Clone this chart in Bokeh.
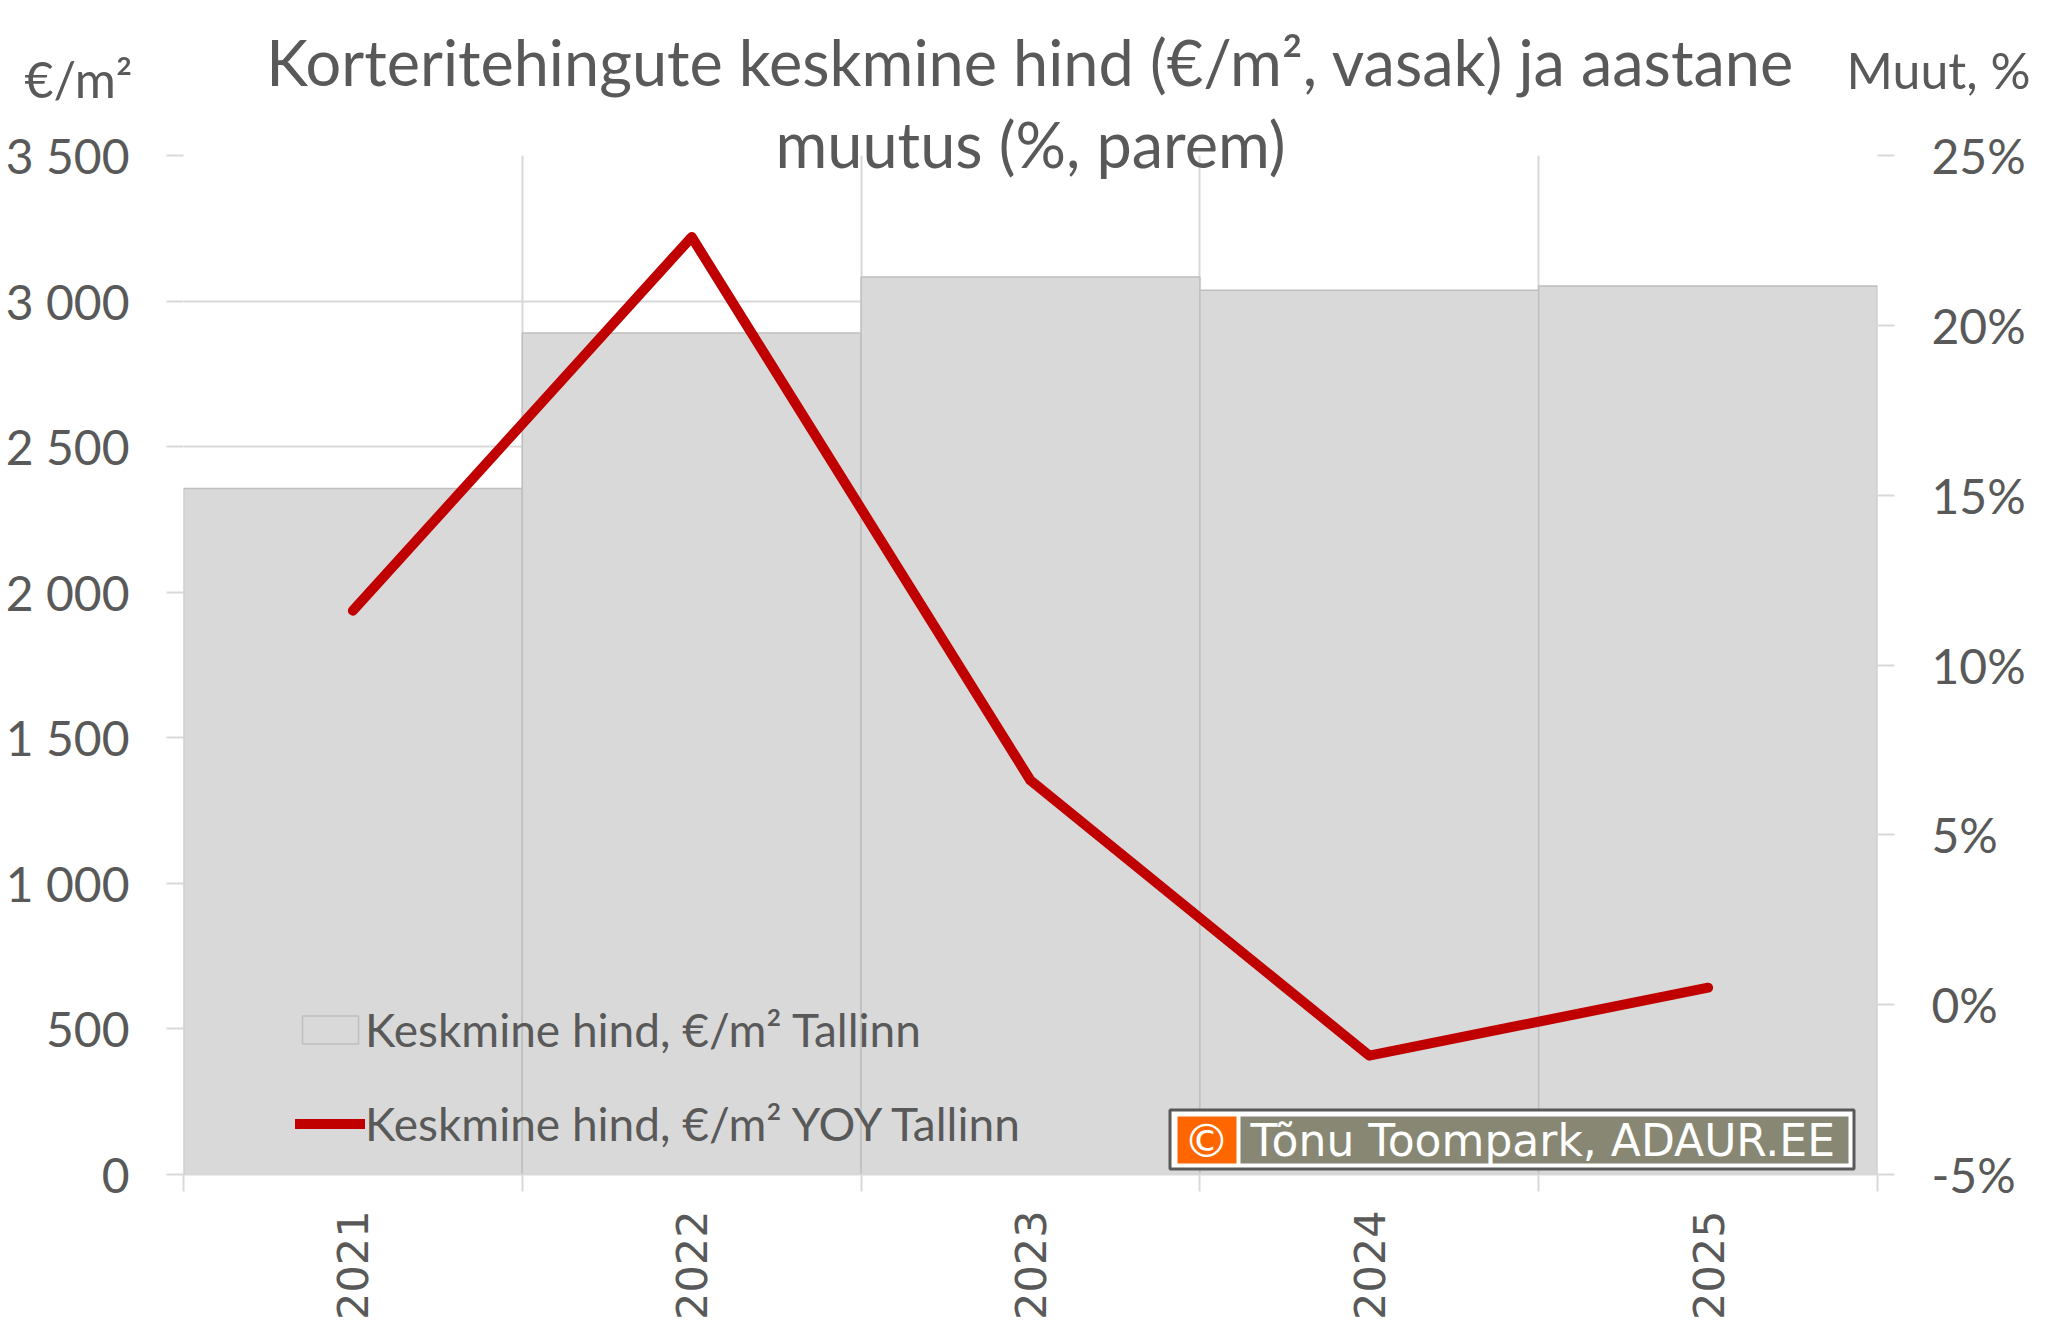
import math
from bokeh.plotting import figure
from bokeh.models import (Range1d, LinearAxis, FixedTicker, Label, Legend, LegendItem,
                          BoxAnnotation, ColumnDataSource, Title)
from bokeh.embed import file_html
from bokeh.resources import INLINE

# ---- data ----
years = ["2021", "2022", "2023", "2024", "2025"]
price = [2356, 2890, 3083, 3037, 3052]          # €/m², left axis
yoy = [11.6, 22.6, 6.6, -1.5, 0.5]               # %, right axis
left_ticks = [0, 500, 1000, 1500, 2000, 2500, 3000, 3500]
left_tick_labels = ["0", "500", "1 000", "1 500", "2 000", "2 500", "3 000", "3 500"]
right_ticks = [-5, 0, 5, 10, 15, 20, 25]
right_tick_labels = ["-5%", "0%", "5%", "10%", "15%", "20%", "25%"]
title_lines = ["Korteritehingute keskmine hind (€/m², vasak) ja aastane", "muutus (%, parem)"]
left_unit = "€/m²"
right_unit = "Muut, %"
legend_labels = ["Keskmine hind, €/m² Tallinn", "Keskmine hind, €/m² YOY Tallinn"]
watermark = "Tõnu Toompark, ADAUR.EE"

TXT = "#595959"
GRID = "#d9d9d9"
FONT = "Lato"

xc = [i + 0.5 for i in range(len(years))]
bounds = list(range(len(years) + 1))
src = ColumnDataSource(dict(x=xc, year=years, price=price, yoy=yoy))

p = figure(width=2032, height=1322, output_backend="svg", toolbar_location=None, tools="",
           x_range=Range1d(0, len(years)), y_range=Range1d(0, 3500),
           min_border_left=183, min_border_right=155, min_border_top=155, min_border_bottom=148)
p.title = None
p.extra_y_ranges = {"pct": Range1d(-5, 25)}
p.outline_line_color = None
p.background_fill_color = "white"
p.border_fill_color = "white"

# grids
p.xgrid.ticker = FixedTicker(ticks=bounds)
p.xgrid.grid_line_color = GRID
p.xgrid.grid_line_width = 2
p.ygrid.grid_line_color = GRID
p.ygrid.grid_line_width = 2

# bottom axis
xa = p.xaxis[0]
xa.ticker = FixedTicker(ticks=xc, minor_ticks=bounds)
xa.major_label_overrides = {x: y for x, y in zip(xc, years)}
xa.major_label_orientation = math.pi / 2
xa.major_tick_out = 0
xa.major_tick_in = 0
xa.minor_tick_out = 17
xa.minor_tick_in = 0
xa.minor_tick_line_color = GRID
xa.minor_tick_line_width = 2
xa.axis_line_color = GRID
xa.axis_line_width = 2
xa.major_label_standoff = 19
xa.major_label_text_font = "DejaVu Sans"
xa.major_label_text_font_size = "43px"
xa.major_label_text_color = TXT

# left axis
ya = p.yaxis[0]
ya.ticker = FixedTicker(ticks=left_ticks)
ya.major_label_overrides = {t: s for t, s in zip(left_ticks, left_tick_labels)}
ya.axis_line_color = None
ya.major_tick_out = 17
ya.major_tick_in = 0
ya.major_tick_line_color = GRID
ya.major_tick_line_width = 2
ya.minor_tick_line_color = None
ya.major_label_standoff = 37
ya.major_label_text_font = FONT
ya.major_label_text_font_size = "48px"
ya.major_label_text_color = TXT

# right axis
ra = LinearAxis(y_range_name="pct", ticker=FixedTicker(ticks=right_ticks))
ra.major_label_overrides = {t: s for t, s in zip(right_ticks, right_tick_labels)}
ra.axis_line_color = None
ra.major_tick_out = 17
ra.major_tick_in = 0
ra.major_tick_line_color = GRID
ra.major_tick_line_width = 2
ra.minor_tick_line_color = None
ra.major_label_standoff = 37
ra.major_label_text_font = FONT
ra.major_label_text_font_size = "48px"
ra.major_label_text_color = TXT
p.add_layout(ra, "right")

# glyphs
bars = p.vbar(x="x", top="price", width=1.0, source=src,
              fill_color="#d9d9d9", line_color="#bfbfbf", line_width=1.5)
line = p.line(x="x", y="yoy", source=src, y_range_name="pct",
              line_color="#c00000", line_width=10, line_cap="round", line_join="round")

# legend
legend = Legend(items=[LegendItem(label=legend_labels[0], renderers=[bars]),
                       LegendItem(label=legend_labels[1], renderers=[line])],
                location=(112, 23), orientation="vertical",
                glyph_width=70, glyph_height=35, label_height=35, label_standoff=0,
                spacing=39, padding=0, margin=0,
                background_fill_alpha=0, border_line_color=None,
                label_text_font=FONT, label_text_font_size="46px", label_text_color=TXT)
p.add_layout(legend)

# ---- header texts as titles stacked above the frame (first added = nearest the frame) ----
def title(text, size, height, align="center", offset=0):
    h_est = 1.15 * size
    return Title(text=text, align=align, vertical_align="middle", offset=offset,
                 standoff=height - 2 - h_est, text_font=FONT, text_font_size=f"{size}px",
                 text_font_style="normal", text_color=TXT)

p.add_layout(title(title_lines[1], 63, 21), "above")
p.add_layout(title(" ", 1, 47), "above")                         # spacer
p.add_layout(title(left_unit, 50, 8, "left", -159), "above")
p.add_layout(title(right_unit, 50, 4, "right", -153), "above")
p.add_layout(title(title_lines[0], 63, 8), "above")

# watermark
p.add_layout(BoxAnnotation(left=1169.5, right=1853.5, top=1109.5, bottom=1168.5,
                           left_units="canvas", right_units="canvas",
                           top_units="canvas", bottom_units="canvas",
                           fill_color="white", fill_alpha=1.0,
                           line_color="#595959", line_alpha=1.0, line_width=3,
                           line_dash="solid"))
p.add_layout(BoxAnnotation(left=1177, right=1236, top=1116, bottom=1163,
                           left_units="canvas", right_units="canvas",
                           top_units="canvas", bottom_units="canvas",
                           fill_color="#ff6600", fill_alpha=1.0, line_color=None))
p.add_layout(BoxAnnotation(left=1240, right=1848, top=1116, bottom=1163,
                           left_units="canvas", right_units="canvas",
                           top_units="canvas", bottom_units="canvas",
                           fill_color="#878774", fill_alpha=1.0, line_color=None))
p.add_layout(Label(x=1206, y=1140, x_units="canvas", y_units="canvas", text="©",
                   text_align="center", text_baseline="middle",
                   text_font="DejaVu Sans", text_font_size="46px", text_color="white"))
p.add_layout(Label(x=1250, y=1140, x_units="canvas", y_units="canvas", text=watermark,
                   text_align="left", text_baseline="middle",
                   text_font="DejaVu Sans", text_font_size="44px", text_color="white"))

open("out.html", "w").write(file_html(p, INLINE))
